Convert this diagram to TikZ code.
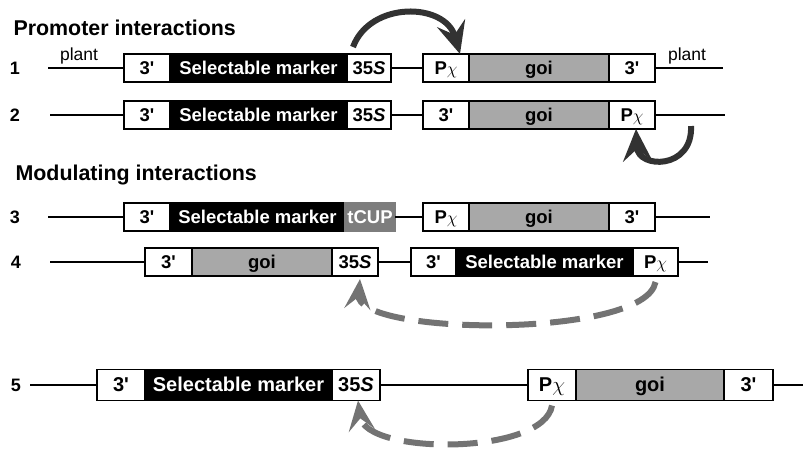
\documentclass[tikz,border=0pt]{standalone}
\usepackage{fontspec}
\setmainfont{Liberation Sans}
\usepackage{xcolor}
\definecolor{goigray}{RGB}{168,168,168}
\definecolor{tcupgray}{RGB}{125,125,125}
\definecolor{arrdark}{RGB}{50,50,50}
\definecolor{arrgray}{RGB}{115,115,115}
\usetikzlibrary{arrows.meta,positioning}

\begin{document}
\begin{tikzpicture}[x=1pt,y=-1pt,
  seg/.style={draw=black,line width=1.6pt,minimum height=28pt,inner sep=0pt,outer sep=0pt,
    text height=13pt,text depth=0pt,font=\fontsize{18.5}{20}\selectfont\bfseries},
  wseg/.style={seg,fill=white},
  bseg/.style={seg,fill=black,text=white},
  gseg/.style={seg,fill=goigray},
  tseg/.style={seg,draw=tcupgray,fill=tcupgray,text=white},
  row5/.style={minimum height=31pt,font=\fontsize{20}{22}\selectfont\bfseries},
  dna/.style={line width=2.5pt},
  num/.style={font=\fontsize{18}{20}\selectfont\bfseries},
  head/.style={font=\fontsize{21.4}{24}\selectfont\bfseries,anchor=west},
  plant/.style={font=\fontsize{17.5}{20}\selectfont},
  darr/.style={arrdark,line width=6pt,-{Stealth[length=32pt,width=29pt,inset=12pt]}},
  garr/.style={arrgray,line width=6pt,dash pattern=on 30pt off 14pt,
    -{Stealth[length=30pt,width=26pt,inset=12pt]}}
]
  \useasboundingbox (0,0) rectangle (803,448);

  % Promoter interactions
  \node[head] (t1) at (10,28) {Promoter interactions};

  % Row 1
  \node[num] (n1) at (15,68) {1};
  \node[plant] (pl1) at (79,56) {plant};
  \node[wseg,minimum width=46pt,anchor=west] (a1) at (124,68) {3\textquotesingle};
  \node[bseg,minimum width=177pt,right=0pt of a1] (m1) {Selectable marker};
  \node[wseg,minimum width=44pt,right=0pt of m1] (s1) {35\textit{S}};
  \node[wseg,minimum width=46pt,anchor=west] (p1) at (423,68) {P$\chi$};
  \node[gseg,minimum width=140pt,right=0pt of p1] (g1) {goi};
  \node[wseg,minimum width=46pt,right=0pt of g1] (b1) {3\textquotesingle};
  \node[plant] (pr1) at (687,56) {plant};
  \coordinate (l1) at (48,68);
  \coordinate (r1) at (723,68);
  \draw[dna] (l1) -- (a1.west) (s1.east) -- (p1.west) (b1.east) -- (r1);
  \draw[darr] ([xshift=6pt,yshift=7pt]s1.north west) .. controls +(17,-46) and +(-15,-52) .. ([xshift=-9pt]p1.north east);

  % Row 2
  \node[num] (n2) at (15,115) {2};
  \node[wseg,minimum width=46pt,anchor=west] (a2) at (124,115) {3\textquotesingle};
  \node[bseg,minimum width=177pt,right=0pt of a2] (m2) {Selectable marker};
  \node[wseg,minimum width=44pt,right=0pt of m2] (s2) {35\textit{S}};
  \node[wseg,minimum width=46pt,anchor=west] (b2) at (423,115) {3\textquotesingle};
  \node[gseg,minimum width=140pt,right=0pt of b2] (g2) {goi};
  \node[wseg,minimum width=46pt,right=0pt of g2] (p2) {P$\chi$};
  \coordinate (l2) at (50,115);
  \coordinate (r2) at (725,115);
  \draw[dna] (l2) -- (a2.west) (s2.east) -- (b2.west) (p2.east) -- (r2);
  \draw[darr] ([xshift=36pt,yshift=3pt]p2.south east) .. controls +(2,44) and +(2,40) .. ([xshift=4pt]p2.south);

  % Modulating interactions
  \node[head] (t2) at (12,175) {Modulating interactions};

  % Row 3
  \node[num] (n3) at (15,217) {3};
  \node[wseg,minimum width=46pt,anchor=west] (a3) at (124,217) {3\textquotesingle};
  \node[bseg,minimum width=175pt,right=0pt of a3] (m3) {Selectable marker};
  \node[tseg,minimum width=50pt,right=0pt of m3] (c3) {tCUP};
  \node[wseg,minimum width=46pt,anchor=west] (p3) at (423,217) {P$\chi$};
  \node[gseg,minimum width=140pt,right=0pt of p3] (g3) {goi};
  \node[wseg,minimum width=46pt,right=0pt of g3] (b3) {3\textquotesingle};
  \coordinate (l3) at (48,217);
  \coordinate (r3) at (710,217);
  \draw[dna] (l3) -- (a3.west) (c3.east) -- (p3.west) (b3.east) -- (r3);

  % Row 4
  \node[num] (n4) at (16,262) {4};
  \node[wseg,minimum width=47pt,anchor=west] (a4) at (145,262) {3\textquotesingle};
  \node[gseg,minimum width=140pt,right=0pt of a4] (g4) {goi};
  \node[wseg,minimum width=46pt,right=0pt of g4] (s4) {35\textit{S}};
  \node[wseg,minimum width=45pt,anchor=west] (b4) at (411,262) {3\textquotesingle};
  \node[bseg,minimum width=177pt,right=0pt of b4] (m4) {Selectable marker};
  \node[wseg,minimum width=45pt,right=0pt of m4] (p4) {P$\chi$};
  \coordinate (l4) at (50,262);
  \coordinate (r4) at (708,262);
  \draw[dna] (l4) -- (a4.west) (s4.east) -- (b4.west) (p4.east) -- (r4);
  \draw[garr] ([yshift=-6pt]p4.south) .. controls +(-10,57) and +(-5,57) .. ([xshift=5pt,yshift=-3pt]s4.south);

  % Row 5
  \node[num] (n5) at (16,385) {5};
  \node[wseg,row5,minimum width=48pt,anchor=west] (a5) at (97,385) {3\textquotesingle};
  \node[bseg,row5,minimum width=187pt,right=0pt of a5] (m5) {Selectable marker};
  \node[wseg,row5,minimum width=48pt,right=0pt of m5] (s5) {35\textit{S}};
  \node[wseg,row5,minimum width=48pt,anchor=west] (p5) at (528,385) {P$\chi$};
  \node[gseg,row5,minimum width=148pt,right=0pt of p5] (g5) {goi};
  \node[wseg,row5,minimum width=49pt,right=0pt of g5] (b5) {3\textquotesingle};
  \coordinate (l5) at (30,385);
  \coordinate (r5) at (803,385);
  \draw[dna] (l5) -- (a5.west) (s5.east) -- (p5.west) (b5.east) -- (r5);
  \draw[garr] ([yshift=-5pt]p5.south) .. controls +(-8,50) and +(7,55) .. ([xshift=2pt]s5.south);
\end{tikzpicture}
\end{document}
